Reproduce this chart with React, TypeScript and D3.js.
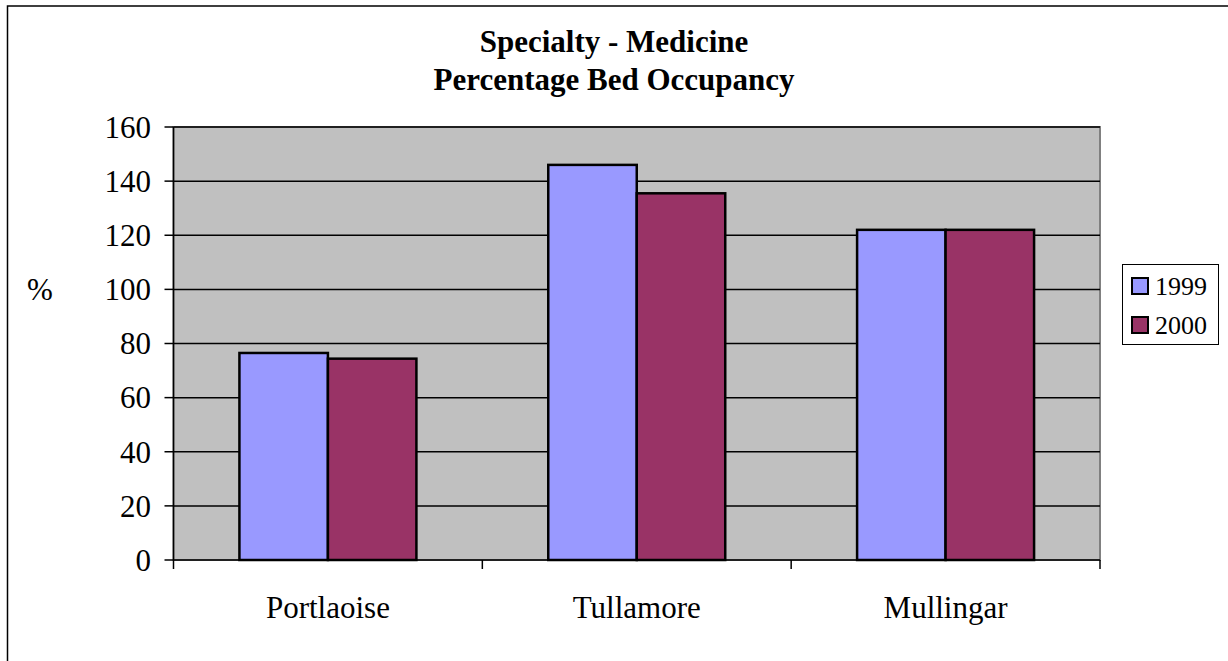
import React from "react";
import * as d3 from "d3";

const categories = ["Portlaoise", "Tullamore", "Mullingar"];
const seriesNames = ["1999", "2000"];
const values1999 = [76.5, 146, 122];
const values2000 = [74.4, 135.5, 122];
const yTicks = [0, 20, 40, 60, 80, 100, 120, 140, 160];
const colors = ["#9999FF", "#993366"];
const titleLines = ["Specialty - Medicine", "Percentage Bed Occupancy"];

export default function App() {
  const W = 1228, H = 661;
  const left = 173.5, right = 1100, top = 127, bottom = 560;
  const font = "'Liberation Serif', 'Times New Roman', serif";
  const x0 = d3.scaleBand<string>().domain(categories).range([left, right]).paddingInner(0).paddingOuter(0);
  const inner = d3.scaleBand<string>().domain(seriesNames).range([0, x0.bandwidth()]).paddingOuter(0.745).paddingInner(0);
  const y = d3.scaleLinear().domain([0, 160]).range([bottom, top]);
  const data = [values1999, values2000];
  const boundaries = [...categories.map((c) => x0(c) as number), right];

  return (
    <svg width={W} height={H} style={{ position: "absolute", left: 0, top: 0 }} fontFamily={font}>
      <rect x={0} y={0} width={W} height={H} fill="#fff" />
      <rect x={7.5} y={6} width={W + 10} height={H + 10} fill="none" stroke="#000" strokeWidth={1.5} />
      {titleLines.map((t, i) => (
        <text key={t} x={614} y={52 + i * 38} textAnchor="middle" fontWeight="bold" fontSize={31}>{t}</text>
      ))}
      <rect x={left} y={top} width={right - left} height={bottom - top} fill="#C0C0C0" stroke="#808080" strokeWidth={2} />
      {yTicks.filter((v) => v > 0).map((v) => (
        <line key={v} x1={left} x2={right} y1={y(v)} y2={y(v)} stroke="#000" strokeWidth={1.5} />
      ))}
      {data.map((vals, si) =>
        categories.map((c, ci) => (
          <rect key={c + si}
            x={(x0(c) as number) + (inner(seriesNames[si]) as number)}
            y={y(vals[ci])}
            width={inner.bandwidth()}
            height={y(0) - y(vals[ci])}
            fill={colors[si]} stroke="#000" strokeWidth={2.5} />
        ))
      )}
      <line x1={left} x2={left} y1={top} y2={bottom} stroke="#000" strokeWidth={1.5} />
      <line x1={left} x2={right} y1={bottom} y2={bottom} stroke="#000" strokeWidth={1.5} />
      {yTicks.map((v) => (
        <g key={v}>
          <line x1={left - 9} x2={left} y1={y(v)} y2={y(v)} stroke="#000" strokeWidth={1.5} />
          <text x={151} y={y(v)} dy="0.35em" textAnchor="end" fontSize={31}>{v}</text>
        </g>
      ))}
      {boundaries.map((b, i) => (
        <line key={i} x1={b} x2={b} y1={bottom} y2={bottom + 9} stroke="#000" strokeWidth={1.5} />
      ))}
      {categories.map((c) => (
        <text key={c} x={(x0(c) as number) + x0.bandwidth() / 2} y={618} textAnchor="middle" fontSize={31}>{c}</text>
      ))}
      <text x={40} y={289} dy="0.35em" textAnchor="middle" fontSize={31}>%</text>
      <rect x={1122.5} y={264.5} width={96} height={80} fill="#fff" stroke="#000" strokeWidth={1} />
      {seriesNames.map((s, i) => (
        <g key={s}>
          <rect x={1132} y={278 + i * 39} width={16} height={16} fill={colors[i]} stroke="#000" strokeWidth={2} />
          <text x={1155} y={295 + i * 39} fontSize={26}>{s}</text>
        </g>
      ))}
    </svg>
  );
}
